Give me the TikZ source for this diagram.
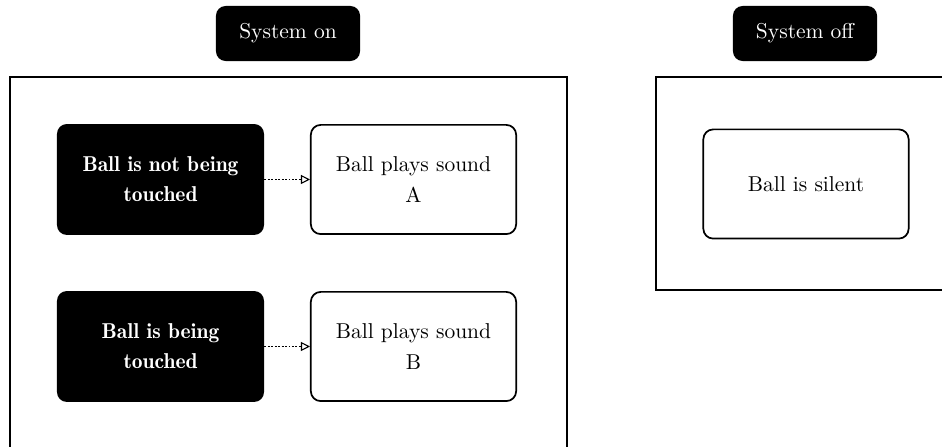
\documentclass[tikz,border=0pt]{standalone}
\usetikzlibrary{arrows.meta}
\begin{document}
\begin{tikzpicture}[x=0.4651pt,y=-0.4651pt,
  title/.style={fill=black,text=white,rounded corners=4.5pt,
    minimum width=67pt,minimum height=25.6pt,inner sep=0pt},
  state/.style={fill=black,text=white,font=\fontseries{b}\selectfont,rounded corners=4.6pt,
    minimum width=96.3pt,minimum height=51.6pt,align=center,inner sep=0pt},
  outcome/.style={draw=black,line width=0.8pt,fill=white,rounded corners=4.6pt,
    minimum width=95.5pt,minimum height=50.8pt,align=center,inner sep=0pt},
  frame/.style={draw=black,line width=0.8pt},
  link/.style={line width=0.5pt,dash pattern=on 0.9pt off 0.7pt,
    -{Triangle[open,length=4.2pt,width=4.2pt]}}]
\useasboundingbox (0,0) rectangle (942,447);
\begin{scope}
  \clip (0,0) rectangle (942,447);
  % panel outlines (run past the page edge)
  \draw[frame] (10,77) rectangle (567,480);
  \draw[frame] (656,77) rectangle (980,290);
\end{scope}

% panel headings
\node[title] (on)  at (288,33.5) {System on};
\node[title] (off) at (805,33.5) {System off};

% system on: touch state drives the sound
\node[state]   (free)  at (160.5,179.5) {Ball is not being\\[2pt]touched};
\node[outcome] (sndA)  at (413.5,179.5) {Ball plays sound\\[2pt]A};
\node[state]   (touch) at (160.5,346.5) {Ball is being\\[2pt]touched};
\node[outcome] (sndB)  at (413.5,346.5) {Ball plays sound\\[2pt]B};

\draw[link] (free) -- (sndA);
\draw[link] (touch) -- (sndB);

% system off
\node[outcome] (quiet) at (806,184) {Ball is silent};
\end{tikzpicture}
\end{document}
